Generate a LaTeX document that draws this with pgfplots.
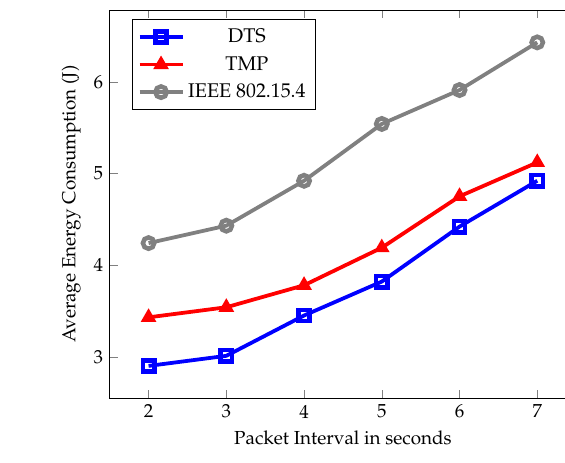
\documentclass[border=0pt]{standalone}
\usepackage[T1]{fontenc}
\usepackage{mathpazo}
\usepackage{pgfplots}
\pgfplotsset{compat=1.18}

\begin{document}
\begin{tikzpicture}
% crop like the reference: right edge of the box is cut off
\clip (-58.1pt,-33.9pt) rectangle (241.1pt,210.9pt);
\begin{axis}[
    scale only axis,
    width=247pt,
    height=205.6pt,
    xmin=1.5, xmax=7.5,
    xtick={2,3,4,5,6,7},
    ytick={3,4,5,6},
    xlabel={Packet Interval in seconds},
    ylabel={Average Energy Consumption (J)},
    legend style={at={(0.047,0.977)}, anchor=north west, legend cell align=center,
        font=\fontsize{10.5}{12}\selectfont, row sep=1.8pt, inner sep=3pt},
    legend image code/.code={
        \draw[mark repeat=2, mark phase=2] plot coordinates {(0cm,0cm) (0.4cm,0cm) (0.8cm,0cm)};
    },
    every axis plot/.append style={line width=2pt},
]

% DTS
\addplot[blue, mark=square, mark size=3pt, mark options={line width=2.4pt}] coordinates {
    (2, 2.90)
    (3, 3.01)
    (4, 3.45)
    (5, 3.82)
    (6, 4.42)
    (7, 4.92)
};

% TMP
\addplot[red, mark=triangle*, mark size=3.8pt, mark options={line width=1pt}] coordinates {
    (2, 3.43)
    (3, 3.54)
    (4, 3.78)
    (5, 4.19)
    (6, 4.75)
    (7, 5.12)
};

% IEEE 802.15.4
\addplot[gray, mark=o, mark size=3pt, mark options={line width=2.4pt}] coordinates {
    (2, 4.24)
    (3, 4.43)
    (4, 4.92)
    (5, 5.54)
    (6, 5.91)
    (7, 6.43)
};

\legend{DTS, TMP, IEEE 802.15.4}
\end{axis}
\end{tikzpicture}
\end{document}
